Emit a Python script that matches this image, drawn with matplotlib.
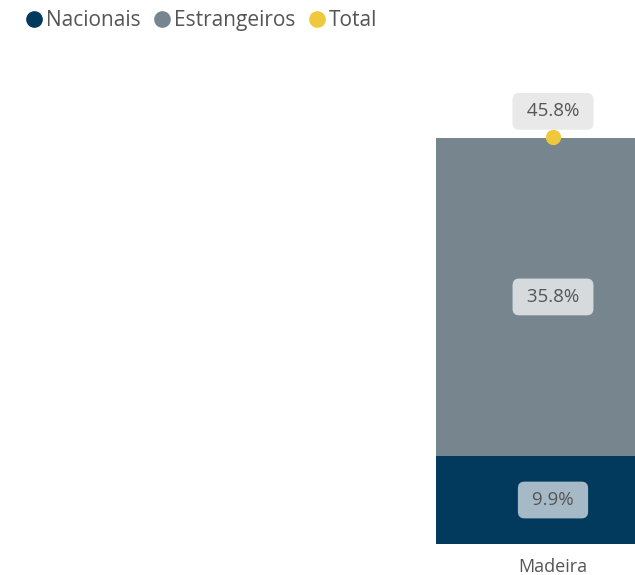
import matplotlib
matplotlib.use("Agg")
import matplotlib.pyplot as plt
from matplotlib.lines import Line2D

plt.rcParams['font.family'] = ['Open Sans', 'DejaVu Sans']

categories = ["Madeira"]
nacionais = [9.9]
estrangeiros = [35.8]
total = [45.8]

c_nac = "#023a5e"
c_est = "#77858f"
c_tot = "#efc83c"
txt = "#555555"

fig = plt.figure(figsize=(6.35, 5.75), dpi=100)
ax = fig.add_axes([0, 1 - 544/575, 1, (544 - 60) / 575])
ax.set_xlim(0, 1)
ymax = 45.8 * (544 - 60) / (544 - 137)
ax.set_ylim(0, ymax)

xc = [553 / 635]
w = 234 / 635
ax.bar(xc, nacionais, width=w, color=c_nac)
ax.bar(xc, estrangeiros, bottom=nacionais, width=w, color=c_est)
ax.plot(xc, total, 'o', color=c_tot, markersize=10, zorder=5, clip_on=False)

fs = 13.5
bs = "round,pad=0.5,rounding_size=0.35"
for x, n, e, t in zip(xc, nacionais, estrangeiros, total):
    ax.text(x, n / 2, f" {n}% ", ha='center', va='center', fontsize=fs, color=txt,
            bbox=dict(boxstyle=bs, fc="white", ec="none", alpha=0.65))
    ax.text(x, n + e / 2, f" {e}% ", ha='center', va='center', fontsize=fs, color=txt,
            bbox=dict(boxstyle=bs, fc="white", ec="none", alpha=0.7))
    ax.annotate(f" {t}% ", (x, t), xytext=(0, 18.5), textcoords='offset points',
                ha='center', va='center', fontsize=fs, color=txt,
                bbox=dict(boxstyle=bs, fc="#e9e9e9", ec="none"))

ax.set_xticks(xc)
ax.set_xticklabels(categories, fontsize=13, color=txt)
ax.tick_params(axis='x', length=0, pad=10)
ax.set_yticks([])
for s in ax.spines.values():
    s.set_visible(False)

handles = [Line2D([], [], marker='o', linestyle='none', color=c, markersize=11)
           for c in (c_nac, c_est, c_tot)]
fig.legend(handles, ["Nacionais", "Estrangeiros", "Total"], loc='upper left',
           bbox_to_anchor=(0.005, 1.015), ncol=3, frameon=False, fontsize=15,
           handletextpad=-0.05, columnspacing=0.45, handlelength=1.2,
           labelcolor=txt)

fig.savefig("out.png", dpi=100)
